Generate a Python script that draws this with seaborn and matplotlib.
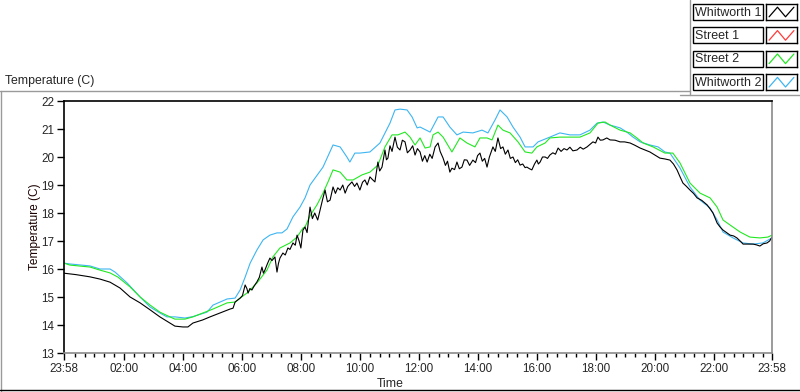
import numpy as np
import pandas as pd
import matplotlib
matplotlib.use("Agg")
import matplotlib.pyplot as plt
from matplotlib.lines import Line2D
from matplotlib.patches import Rectangle
import seaborn as sns

# ---------------- data (hours since 23:58, temperature in C) ----------------
w1_t = [0.00, 0.40, 0.88, 1.22, 1.56, 1.90, 2.24, 2.58, 2.92, 3.25, 3.59, 3.76, 4.03, 4.20, 4.37, 4.70,
        4.95, 5.29, 5.63, 5.73, 5.80, 5.97, 6.05, 6.14, 6.20, 6.24, 6.30, 6.37, 6.45, 6.54, 6.62, 6.71,
        6.76, 6.81, 6.90, 6.98, 7.05, 7.15, 7.22, 7.27, 7.32, 7.42, 7.50, 7.59, 7.66, 7.76, 7.84, 7.90,
        7.97, 8.03, 8.10, 8.17, 8.24, 8.34, 8.42, 8.50, 8.60, 8.68, 8.77, 8.85, 8.93, 9.02, 9.12, 9.20,
        9.28, 9.36, 9.45, 9.53, 9.62, 9.76, 9.85, 9.93, 10.03, 10.12, 10.20, 10.28, 10.37, 10.45, 10.54,
        10.64, 10.70, 10.78, 10.88, 10.93, 10.98, 11.05, 11.12, 11.22, 11.30, 11.39, 11.47, 11.56, 11.64,
        11.73, 11.82, 11.90, 11.98, 12.07, 12.15, 12.23, 12.31, 12.40, 12.48, 12.58, 12.68, 12.75, 12.85,
        12.93, 13.00, 13.08, 13.15, 13.24, 13.32, 13.40, 13.49, 13.57, 13.66, 13.75, 13.86, 13.95, 14.02,
        14.10, 14.18, 14.26, 14.34, 14.42, 14.54, 14.62, 14.71, 14.80, 14.88, 14.96, 15.05, 15.13, 15.22,
        15.30, 15.38, 15.46, 15.55, 15.63, 15.69, 15.78, 15.86, 15.95, 16.03, 16.08, 16.14, 16.22, 16.31,
        16.39, 16.47, 16.57, 16.66, 16.75, 16.85, 16.95, 17.05, 17.15, 17.25, 17.39, 17.50, 17.60, 17.73,
        17.83, 17.93, 18.02, 18.10, 18.18, 18.27, 18.40, 18.51, 18.68, 18.85, 19.00, 19.19, 19.35, 19.53,
        19.70, 19.86, 20.03, 20.20, 20.37, 20.54, 20.66, 20.78, 20.88, 20.98, 21.10, 21.22, 21.34, 21.46,
        21.62, 21.80, 21.90, 22.00, 22.14, 22.24, 22.34, 22.46, 22.58, 22.70, 22.81, 22.92, 23.02, 23.20,
        23.36, 23.48, 23.59, 23.70, 23.83, 23.92, 24.00]
w1_v = [15.85, 15.80, 15.72, 15.64, 15.53, 15.32, 15.00, 14.79, 14.54, 14.29, 14.07, 13.96, 13.93, 13.93, 14.07, 14.18,
        14.29, 14.43, 14.57, 14.60, 14.82, 14.96, 15.05, 15.43, 15.30, 15.14, 15.30, 15.25, 15.40, 15.54, 15.70, 16.07,
        15.85, 15.96, 16.20, 16.39, 16.30, 16.43, 15.89, 16.20, 16.39, 16.57, 16.50, 16.75, 16.70, 16.93, 16.85, 17.21,
        17.00, 16.75, 17.39, 17.50, 17.30, 18.21, 17.80, 18.00, 17.75, 18.10, 18.50, 18.82, 18.40, 18.46, 18.93, 18.70,
        18.90, 18.82, 19.00, 18.71, 18.95, 19.11, 18.95, 19.07, 18.82, 19.10, 19.18, 19.00, 19.29, 19.20, 19.11,
        19.82, 19.50, 19.64, 20.25, 19.90, 19.96, 20.40, 20.20, 20.71, 20.35, 20.25, 20.60, 20.54, 20.15,
        20.25, 20.40, 20.07, 20.30, 20.18, 19.85, 20.05, 19.82, 20.10, 19.95, 20.36, 20.50, 20.20, 19.96,
        19.70, 19.85, 19.46, 19.60, 19.55, 19.82, 19.58, 19.64, 19.90, 19.89, 19.70, 19.89, 19.80, 20.05,
        20.14, 19.85, 19.95, 19.64, 20.00, 20.36, 20.20, 20.68, 20.30, 20.36, 20.10, 20.25, 19.95, 20.00,
        19.80, 19.90, 19.71, 19.75, 19.62, 19.64, 19.58, 19.54, 19.75, 19.89, 19.75, 19.82, 20.00, 20.00,
        19.95, 20.07, 20.15, 20.10, 20.32, 20.20, 20.30, 20.25, 20.35, 20.22, 20.25, 20.35, 20.28, 20.36,
        20.45, 20.54, 20.50, 20.71, 20.60, 20.61, 20.68, 20.61, 20.60, 20.54, 20.54, 20.50, 20.42, 20.32,
        20.25, 20.18, 20.07, 19.96, 19.93, 19.89, 19.75, 19.54, 19.30, 19.07, 18.95, 18.82, 18.70, 18.54,
        18.45, 18.29, 18.15, 18.00, 17.64, 17.50, 17.39, 17.30, 17.21, 17.18, 17.11, 17.00, 16.89, 16.89,
        16.89, 16.86, 16.82, 16.90, 16.93, 17.00, 17.14]

s1_t = []
s1_v = []

s2_t = [0.00, 0.20, 0.88, 1.22, 1.56, 1.83, 2.24, 2.58, 2.92, 3.25, 3.59, 3.76, 4.10, 4.37, 4.71, 5.05,
        5.53, 5.80, 5.97, 6.20, 6.54, 6.88, 7.08, 7.32, 7.66, 7.90, 8.10, 8.17, 8.34, 8.58, 8.78, 8.95,
        9.12, 9.36, 9.59, 9.80, 10.10, 10.37, 10.64, 10.88, 11.12, 11.32, 11.56, 11.73, 11.90, 12.07,
        12.24, 12.41, 12.51, 12.68, 12.85, 13.15, 13.42, 13.66, 13.93, 14.10, 14.34, 14.51, 14.71, 14.88,
        15.12, 15.39, 15.63, 15.86, 16.03, 16.31, 16.47, 16.81, 17.15, 17.49, 17.83, 18.10, 18.34, 18.51,
        18.85, 19.19, 19.42, 19.63, 19.97, 20.37, 20.64, 20.88, 21.22, 21.56, 21.90, 22.14, 22.34, 22.58,
        22.92, 23.25, 23.59, 23.86, 24.00]
s2_v = [16.21, 16.14, 16.07, 15.96, 15.86, 15.71, 15.36, 15.00, 14.71, 14.46, 14.29, 14.21, 14.21, 14.29, 14.43, 14.57,
        14.79, 14.82, 14.96, 15.14, 15.50, 15.96, 16.43, 16.75, 16.93, 17.14, 17.46, 17.50, 17.90, 18.30, 18.71, 19.11,
        19.54, 19.46, 19.18, 19.18, 19.36, 19.46, 19.71, 20.36, 20.79, 20.79, 20.89, 20.71, 20.43, 20.68,
        20.32, 20.36, 20.79, 20.89, 20.71, 20.18, 20.68, 20.50, 20.36, 20.68, 20.68, 20.61, 21.14, 20.96,
        20.86, 20.54, 20.18, 20.14, 20.36, 20.50, 20.68, 20.71, 20.71, 20.71, 20.86, 21.21, 21.25, 21.14,
        20.96, 20.86, 20.68, 20.50, 20.36, 20.14, 20.14, 19.79, 19.07, 18.71, 18.54, 18.21, 17.75, 17.57,
        17.32, 17.14, 17.11, 17.14, 17.21]

w2_t = [0.00, 0.20, 0.88, 1.22, 1.56, 1.73, 2.14, 2.58, 2.92, 3.25, 3.49, 3.76, 4.10, 4.37, 4.85, 5.05,
        5.53, 5.80, 5.97, 6.14, 6.31, 6.54, 6.75, 6.98, 7.22, 7.39, 7.56, 7.76, 8.00, 8.17, 8.34, 8.78,
        9.12, 9.36, 9.59, 9.69, 9.86, 10.03, 10.37, 10.71, 11.05, 11.22, 11.39, 11.63, 11.80, 11.97,
        12.07, 12.41, 12.68, 12.85, 13.08, 13.32, 13.53, 13.86, 14.17, 14.37, 14.61, 14.78, 15.02, 15.22,
        15.46, 15.63, 15.90, 16.07, 16.47, 16.81, 17.15, 17.49, 17.83, 18.07, 18.27, 18.51, 18.85, 19.08,
        19.29, 19.53, 19.86, 20.14, 20.37, 20.54, 20.88, 21.22, 21.56, 21.90, 22.14, 22.34, 22.68, 23.02,
        23.36, 23.69, 24.00]
w2_v = [16.21, 16.18, 16.11, 16.00, 16.00, 15.89, 15.50, 15.00, 14.64, 14.43, 14.29, 14.29, 14.25, 14.30, 14.46, 14.71,
        14.93, 14.96, 15.25, 15.71, 16.21, 16.68, 17.04, 17.21, 17.29, 17.29, 17.43, 17.86, 18.21, 18.54, 19.00, 19.64,
        20.43, 20.36, 20.00, 19.82, 20.14, 20.14, 20.18, 20.50, 21.21, 21.68, 21.71, 21.68, 21.43, 21.04,
        21.07, 20.89, 21.43, 21.43, 21.07, 20.79, 20.89, 20.86, 20.96, 20.86, 21.32, 21.68, 21.43, 21.07,
        20.71, 20.36, 20.36, 20.54, 20.71, 20.86, 20.79, 20.79, 20.96, 21.21, 21.25, 21.14, 21.04, 20.89,
        20.71, 20.54, 20.43, 20.36, 20.18, 20.14, 19.61, 18.93, 18.46, 18.18, 17.75, 17.32, 17.11, 16.93,
        16.89, 16.93, 17.11]

series_names = ["Whitworth 1", "Street 1", "Street 2", "Whitworth 2"]
series_colors = ["#000000", "#FF3B3B", "#22E822", "#3DB5F2"]
x_tick_labels = ["23:58", "02:00", "04:00", "06:00", "08:00", "10:00", "12:00",
                 "14:00", "16:00", "18:00", "20:00", "22:00", "23:58"]
y_ticks = [13, 14, 15, 16, 17, 18, 19, 20, 21, 22]

# ---------------- build long table ----------------
frames = []
for name, t, v in [("Whitworth 2", w2_t, w2_v), ("Street 2", s2_t, s2_v),
                   ("Street 1", s1_t, s1_v), ("Whitworth 1", w1_t, w1_v)]:
    if len(t):
        frames.append(pd.DataFrame({"time": t, "temp": v, "sensor": name}))
df = pd.concat(frames, ignore_index=True)
palette = dict(zip(series_names, series_colors))

# ---------------- figure ----------------
W, H = 800, 392
sns.set_style("white")
plt.rcParams["font.family"] = ["Liberation Sans", "DejaVu Sans"]

fig = plt.figure(figsize=(W / 100, H / 100), dpi=100)
fig.patch.set_facecolor("white")

def fx(x):
    return x / W

def fy(y):
    return 1 - y / H

ax = fig.add_axes([fx(64), fy(353), fx(772) - fx(64), fy(101) - fy(353)])
sns.lineplot(data=df, x="time", y="temp", hue="sensor",
             hue_order=["Whitworth 2", "Street 2", "Whitworth 1"],
             palette=palette, estimator=None, sort=False, legend=False,
             linewidth=0.8, ax=ax)

ax.set_xlim(0, 24)
ax.set_ylim(13, 22)
major_x = [0] + [2 * k + 2 / 60 for k in range(1, 12)] + [24]
ax.set_xticks(major_x)
ax.set_xticklabels(x_tick_labels)
minor_x = [m for m in np.arange(22 / 60, 24, 1 / 3) if all(abs(m - j) > 0.05 for j in major_x)]
ax.set_xticks(minor_x, minor=True)
ax.set_yticks(y_ticks)
ax.set_yticklabels([str(v) for v in y_ticks])
ax.tick_params(axis="both", which="major", direction="out", length=5, width=1,
               color="black", labelsize=8.4, pad=2, bottom=True, left=True)
ax.tick_params(axis="x", which="minor", direction="out", length=3, width=1,
               color="black", bottom=True)
ax.set_xlabel("")
ax.set_ylabel("")
for side in ["left", "top"]:
    ax.spines[side].set_color("black")
    ax.spines[side].set_linewidth(1.2)
for side in ["right", "bottom"]:
    ax.spines[side].set_color("#8a8a8a")
    ax.spines[side].set_linewidth(1.2)
    ax.spines[side].set_visible(True)
ax.grid(False)

# axis titles
fig.text(fx(35), (fy(101) + fy(353)) / 2, "Temperature (C)", rotation=90,
         ha="center", va="center", fontsize=8.6, color="#1a0000")
fig.text(fx(390), fy(384), "Time", ha="center", va="center", fontsize=8.8)
fig.text(fx(5), fy(81), "Temperature (C)", ha="left", va="center", fontsize=8.8)

# panel frame lines
frame = [((0, 690), (91, 91), "#9a9a9a"),
         ((1, 1), (91, 391), "#9a9a9a"),
         ((0, 800), (390, 390), "#000000"),
         ((690, 690), (0, 95), "#9a9a9a"),
         ((680, 800), (95, 95), "#9a9a9a")]
for xs, ys, c in frame:
    fig.add_artist(Line2D([fx(xs[0]), fx(xs[1])], [fy(ys[0]), fy(ys[1])],
                          transform=fig.transFigure, color=c, linewidth=1.0))

# custom legend
for i, (name, col) in enumerate(zip(series_names, series_colors)):
    y0 = 4 + 23.4 * i
    fig.add_artist(Rectangle((fx(693), fy(y0 + 16)), fx(763) - fx(693), fy(y0) - fy(y0 + 16),
                             transform=fig.transFigure, facecolor="white",
                             edgecolor="black", linewidth=1.0))
    fig.text(fx(695), fy(y0 + 8.5), name, ha="left", va="center", fontsize=9.0)
    lax = fig.add_axes([fx(766), fy(y0 + 16), fx(797) - fx(766), fy(y0) - fy(y0 + 16)])
    lax.set_xlim(0, 1)
    lax.set_ylim(0, 1)
    lax.plot([0.1, 0.37, 0.63, 0.9], [0.2, 0.8, 0.2, 0.8], color=col, linewidth=0.9)
    lax.set_xticks([])
    lax.set_yticks([])
    for s in lax.spines.values():
        s.set_color("black")
        s.set_linewidth(1.0)

fig.savefig("out.png", dpi=100)
